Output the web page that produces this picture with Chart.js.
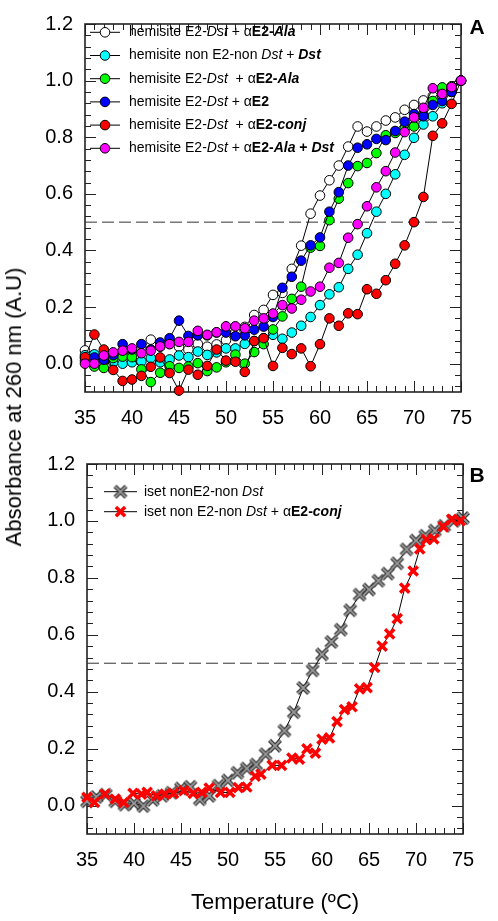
<!DOCTYPE html>
<html>
<head>
<meta charset="utf-8">
<script src="https://cdn.jsdelivr.net/npm/chart.js@4.4.1/dist/chart.umd.min.js"></script>
<style>
  body { margin: 0; background: #fff; width: 498px; height: 921px; position: relative; overflow: hidden;
         font-family: "Liberation Sans", Arial, sans-serif; }
  #cA { position: absolute; left: 0; top: 0; }
  #cB { position: absolute; left: 0; top: 440px; }
  #ytitle { position: absolute; left: 14px; top: 407px; transform: translate(-50%, -50%) rotate(-90deg);
            white-space: nowrap; font-size: 22px; line-height: 1; color: #000; }
</style>
</head>
<body>
<canvas id="cA" width="498" height="440"></canvas>
<canvas id="cB" width="498" height="481"></canvas>
<div id="ytitle">Absorbance at 260 nm (A.U)</div>
<script>
// Panel A: temperature (ºC) and normalised absorbance
const tempsA = [35,36,37,38,39,40,41,42,43,44,45,46,47,48,49,50,51,52,53,54,55,56,57,58,59,60,61,62,63,64,65,66,67,68,69,70,71,72,73,74,75];
const whiteA = [0.047,0.02,0.01,0.03,0.04,0.045,0.05,0.085,0.06,0.07,0.06,0.05,0.07,0.06,0.068,0.083,0.11,0.13,0.172,0.19,0.243,0.25,0.335,0.417,0.53,0.594,0.648,0.70,0.767,0.838,0.82,0.838,0.859,0.87,0.897,0.914,0.93,0.945,0.96,0.98,1.0];
const cyanA = [0.03,0.033,0.015,0.005,0.0,0.005,0.008,0.02,0.005,0.015,0.029,0.023,0.043,0.031,0.04,0.054,0.054,0.07,0.08,0.09,0.102,0.088,0.11,0.134,0.165,0.207,0.245,0.27,0.335,0.385,0.461,0.537,0.6,0.669,0.738,0.798,0.845,0.874,0.92,0.96,1.0];
const greenA = [0.01,-0.01,-0.015,0.02,0.025,0.023,-0.02,-0.065,-0.032,-0.009,-0.015,-0.01,0.002,-0.026,-0.013,0.005,0.032,0.0,0.041,0.069,0.121,0.167,0.229,0.272,0.41,0.416,0.507,0.583,0.638,0.698,0.709,0.744,0.807,0.815,0.83,0.838,0.88,0.928,0.976,0.97,1.0];
const blueA = [0.02,0.022,0.014,0.03,0.069,0.05,0.069,0.05,0.075,0.09,0.152,0.098,0.1,0.1,0.11,0.11,0.097,0.1,0.12,0.131,0.165,0.268,0.307,0.364,0.418,0.446,0.537,0.606,0.70,0.763,0.775,0.794,0.79,0.822,0.855,0.882,0.874,0.914,0.928,0.96,1.0];
const redA = [0.023,0.103,0.05,-0.022,-0.061,-0.056,-0.043,-0.011,0.022,-0.033,-0.095,-0.021,-0.039,-0.008,0.05,0.011,0.007,-0.029,0.08,0.09,-0.008,0.056,0.034,0.054,-0.009,0.069,0.16,0.134,0.178,0.175,0.263,0.247,0.295,0.353,0.418,0.5,0.589,0.805,0.849,0.918,1.0];
const magentaA = [0.0,0.0,0.029,0.04,0.046,0.054,0.037,0.046,0.061,0.069,0.077,0.077,0.116,0.102,0.111,0.132,0.132,0.125,0.152,0.16,0.177,0.207,0.195,0.226,0.255,0.272,0.339,0.356,0.445,0.493,0.556,0.623,0.68,0.746,0.818,0.87,0.904,0.973,0.953,0.977,1.0];

// Panel B
const tempsBlack = [35,36,37,38,39,40,41,42,43,44,45,46,47,48,49,50,51,52,53,54,55,56,57,58,59,60,61,62,63,64,65,66,67,68,69,70,71,72,73,74,75];
const blackB = [0.015,0.03,0.038,0.015,0.003,0.008,-0.002,0.02,0.034,0.045,0.06,0.066,0.022,0.034,0.07,0.088,0.115,0.13,0.144,0.18,0.21,0.263,0.328,0.413,0.475,0.531,0.575,0.618,0.686,0.741,0.759,0.79,0.815,0.851,0.9,0.931,0.948,0.966,0.983,1.0,1.01];
const tempsRed = [35.0,35.8,36.9,38.0,38.9,39.9,40.8,41.4,42.4,43.3,44.2,45.3,46.3,47.2,48.0,49.2,50.2,51.1,52.0,52.9,53.5,54.7,55.7,56.8,57.6,58.4,59.3,60.0,60.8,61.6,62.4,63.2,64.0,64.8,65.6,66.4,67.2,68.0,68.8,69.7,70.4,71.1,71.9,72.9,73.8,74.7];
const redB = [0.029,0.011,0.04,0.023,0.011,0.043,0.04,0.046,0.034,0.04,0.043,0.052,0.043,0.046,0.061,0.046,0.046,0.063,0.065,0.103,0.11,0.141,0.141,0.167,0.163,0.199,0.184,0.233,0.238,0.295,0.337,0.347,0.41,0.414,0.485,0.56,0.603,0.657,0.764,0.824,0.902,0.934,0.937,0.98,1.006,1.0];

const xTicks = [35,40,45,50,55,60,65,70,75];
const yTicks = [0,0.2,0.4,0.6,0.8,1.0,1.2];
const midLine = 0.5;

// legend texts: [text, style] where style is '', 'i', 'b' or 'bi'
const legendA = [
  [['hemisite E2-',''],['Dst','i'],[' + α',''],['E2-','b'],['Ala','bi']],
  [['hemisite non E2-non ',''],['Dst','i'],[' + ',''],['Dst','bi']],
  [['hemisite E2-',''],['Dst','i'],['  + α',''],['E2-','b'],['Ala','bi']],
  [['hemisite E2-',''],['Dst','i'],[' + α',''],['E2','b']],
  [['hemisite E2-',''],['Dst','i'],['  + α',''],['E2-','b'],['conj','bi']],
  [['hemisite E2-',''],['Dst','i'],[' + α',''],['E2-','b'],['Ala','bi'],[' + ','b'],['Dst','bi']]
];
const legendB = [
  [['iset nonE2-non ',''],['Dst','i']],
  [['iset non E2-non ',''],['Dst','i'],[' + α',''],['E2-','b'],['conj','bi']]
];

const FONT = "'Liberation Sans', Arial, sans-serif";

function pts(xs, ys) {
  return xs.map((x, i) => ({ x: x, y: ys[i] }));
}

function circleSet(label, ys, color, order) {
  return {
    label: label, data: pts(tempsA, ys), order: order, clip: false,
    borderColor: '#000', borderWidth: 1, tension: 0,
    pointStyle: 'circle', pointRadius: 4.8, pointBorderWidth: 1,
    pointBackgroundColor: color, pointBorderColor: '#000'
  };
}

function dashSet() {
  return {
    data: [{ x: 35, y: midLine }, { x: 75, y: midLine }], order: 20,
    borderColor: '#333', borderWidth: 1, borderDash: [12, 5], pointRadius: 0
  };
}

// grey outlined cross for the first panel B series
const greyCross = document.createElement('canvas');
greyCross.width = 16; greyCross.height = 16;
(function () {
  const c = greyCross.getContext('2d');
  c.beginPath();
  c.moveTo(2.5, 2.5); c.lineTo(13.5, 13.5); c.moveTo(13.5, 2.5); c.lineTo(2.5, 13.5);
  c.strokeStyle = '#2a2a2a'; c.lineWidth = 4.2; c.stroke();
  c.strokeStyle = '#9a9a9a'; c.lineWidth = 1.8; c.stroke();
})();

function drawRich(ctx, parts, x, y) {
  parts.forEach(p => {
    const st = p[1];
    ctx.font = (st.includes('i') ? 'italic ' : '') + (st.includes('b') ? 'bold ' : '') + '14px ' + FONT;
    ctx.fillText(p[0], x, y);
    x += ctx.measureText(p[0]).width;
  });
}

function decor(cfg) {
  return {
    id: 'decor' + cfg.letter,
    beforeDatasetsDraw(chart) {
      const { ctx, chartArea: a, scales: { x, y } } = chart;
      ctx.save();
      ctx.strokeStyle = '#222';
      ctx.lineWidth = 1;
      ctx.beginPath();
      for (let t = 35; t <= 75; t++) {
        const px = Math.round(x.getPixelForValue(t)) + 0.5;
        const len = t % 5 === 0 ? 11 : 6;
        ctx.moveTo(px, a.bottom); ctx.lineTo(px, a.bottom - len);
        ctx.moveTo(px, a.top); ctx.lineTo(px, a.top + len);
      }
      for (let k = -2; k <= 30; k++) {
        const py = Math.round(y.getPixelForValue(k * 0.04)) + 0.5;
        const len = k % 5 === 0 ? 11 : 6;
        ctx.moveTo(a.left, py); ctx.lineTo(a.left + len, py);
        ctx.moveTo(a.right, py); ctx.lineTo(a.right - len, py);
      }
      ctx.stroke();
      ctx.lineWidth = 1.6;
      ctx.strokeRect(a.left, a.top, a.right - a.left, a.bottom - a.top);
      ctx.restore();
    },
    afterDatasetsDraw(chart) {
      const ctx = chart.ctx;
      const sets = chart.data.datasets;
      ctx.save();
      ctx.textBaseline = 'middle';
      cfg.legend.forEach((parts, i) => {
        const ds = sets[i];
        const yy = cfg.y0 + i * cfg.dy;
        ctx.strokeStyle = '#000';
        ctx.lineWidth = 1;
        ctx.beginPath();
        ctx.moveTo(cfg.x0, yy); ctx.lineTo(cfg.x1, yy);
        ctx.stroke();
        ctx.fillStyle = ds.pointBackgroundColor || '#000';
        ctx.strokeStyle = ds.pointBorderColor;
        ctx.lineWidth = ds.pointBorderWidth;
        Chart.helpers.drawPoint(ctx, {
          pointStyle: ds.pointStyle, radius: ds.pointRadius,
          borderWidth: ds.pointBorderWidth, rotation: 0
        }, (cfg.x0 + cfg.x1) / 2, yy);
        ctx.fillStyle = '#000';
        drawRich(ctx, parts, cfg.tx, yy);
      });
      ctx.font = 'bold 21px ' + FONT;
      ctx.textAlign = 'center';
      ctx.fillText(cfg.letter, cfg.lx, cfg.ly);
      ctx.restore();
    }
  };
}

function makeChart(id, datasets, pad, xH, yW, xTitle, plugin) {
  return new Chart(document.getElementById(id), {
    type: 'line',
    data: { datasets: datasets },
    options: {
      responsive: false,
      animation: false,
      layout: { padding: pad },
      plugins: { legend: { display: false }, tooltip: { enabled: false } },
      scales: {
        x: {
          type: 'linear', min: 35, max: 75,
          afterFit: s => { s.height = xH; },
          afterBuildTicks: s => { s.ticks = xTicks.map(v => ({ value: v })); },
          grid: { display: false, drawTicks: false },
          border: { display: false },
          ticks: { font: { size: 20, family: FONT }, color: '#000', padding: 14, maxRotation: 0, autoSkip: false },
          title: xTitle
        },
        y: {
          min: -0.1, max: 1.2,
          afterFit: s => { s.width = yW; },
          afterBuildTicks: s => { s.ticks = yTicks.map(v => ({ value: v })); },
          grid: { display: false, drawTicks: false },
          border: { display: false },
          ticks: { font: { size: 20, family: FONT }, color: '#000', padding: 12, callback: v => v.toFixed(1) }
        }
      }
    },
    plugins: [plugin]
  });
}

makeChart('cA', [
  circleSet('hemisite E2-Dst + αE2-Ala', whiteA, '#ffffff', 5),
  circleSet('hemisite non E2-non Dst + Dst', cyanA, '#00ffff', 4),
  circleSet('hemisite E2-Dst + αE2-Ala', greenA, '#00ff00', 3),
  circleSet('hemisite E2-Dst + αE2', blueA, '#0000ff', 2),
  circleSet('hemisite E2-Dst + αE2-conj', redA, '#ff0000', 1),
  circleSet('hemisite E2-Dst + αE2-Ala + Dst', magentaA, '#ff00ff', 0),
  dashSet()
], { left: 0, top: 14, right: 37, bottom: 0 }, 48, 85, { display: false },
  decor({ letter: 'A', legend: legendA, x0: 90, x1: 120, tx: 129, y0: 32.3, dy: 23.2, lx: 477, ly: 28 }));

makeChart('cB', [
  {
    label: 'iset nonE2-non Dst', data: pts(tempsBlack, blackB), order: 1, clip: false,
    borderColor: '#000', borderWidth: 1, tension: 0,
    pointStyle: greyCross, pointRadius: 6, pointBorderWidth: 1, pointBorderColor: '#333'
  },
  {
    label: 'iset non E2-non Dst + αE2-conj', data: pts(tempsRed, redB), order: 0, clip: false,
    borderColor: '#000', borderWidth: 1, tension: 0,
    pointStyle: 'crossRot', pointRadius: 6.5, pointBorderWidth: 3.5, pointBorderColor: '#ff0000'
  },
  dashSet()
], { left: 0, top: 17, right: 35, bottom: 0 }, 87, 87,
  { display: true, text: 'Temperature (ºC)', color: '#000', font: { size: 22, family: FONT }, padding: { top: 0, bottom: 5 } },
  decor({ letter: 'B', legend: legendB, x0: 104, x1: 137, tx: 144, y0: 51.7, dy: 20, lx: 477, ly: 36 }));
</script>
</body>
</html>
